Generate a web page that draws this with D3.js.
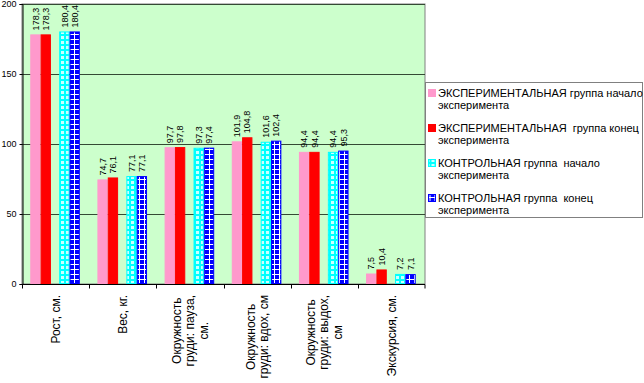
<!DOCTYPE html>
<html>
<head>
<meta charset="utf-8">
<script src="https://cdn.jsdelivr.net/npm/d3@7"></script>
<style>
  html, body { margin: 0; padding: 0; background: #fff; }
  svg { display: block; font-family: Arial, "Liberation Sans", sans-serif; }
</style>
</head>
<body>
<svg id="chart" width="644" height="383"></svg>
<script>
'use strict';

// categories, one label line per array entry
var categories = ['Рост, см.', 'Вес, кг.', 'Окружность груди: пауза, см.',
  'Окружность груди: вдох, см', 'Окружность груди: выдох, см', 'Экскурсия, см.'];
var categoryLines = [
  ['Рост, см.'],
  ['Вес, кг.'],
  ['Окружность', 'груди: пауза,', 'см.'],
  ['Окружность', 'груди: вдох, см'],
  ['Окружность', 'груди: выдох,', 'см'],
  ['Экскурсия, см.']
];

var expStart = [178.3, 74.7, 97.7, 101.9, 94.4, 7.5];
var expEnd = [178.3, 76.1, 97.8, 104.8, 94.4, 10.4];
var ctrlStart = [180.4, 77.1, 97.3, 101.6, 94.4, 7.2];
var ctrlEnd = [180.4, 77.1, 97.4, 102.4, 95.3, 7.1];

var seriesNames = [
  ['ЭКСПЕРИМЕНТАЛЬНАЯ группа начало', 'эксперимента'],
  ['ЭКСПЕРИМЕНТАЛЬНАЯ  группа конец', 'эксперимента'],
  ['КОНТРОЛЬНАЯ группа  начало', 'эксперимента'],
  ['КОНТРОЛЬНАЯ группа  конец', 'эксперимента']
];

var yTicks = [0, 50, 100, 150, 200];

var series = [
  { values: expStart, fill: '#ff99cc', stroke: '#ff99cc' },
  { values: expEnd, fill: '#ff0000', stroke: '#ff0000' },
  { values: ctrlStart, fill: 'url(#patCyan)', stroke: '#00ffff' },
  { values: ctrlEnd, fill: 'url(#patBlue)', stroke: '#0000ff' }
];

var plot = { left: 22, right: 425, top: 4, bottom: 284 };

var svg = d3.select('#chart');

// patterns for the control group bars
var defs = svg.append('defs');
var pc = defs.append('pattern')
  .attr('id', 'patCyan')
  .attr('patternUnits', 'userSpaceOnUse')
  .attr('width', 5).attr('height', 5);
pc.append('rect').attr('width', 5).attr('height', 5).attr('fill', '#00ffff');
pc.append('rect').attr('x', 1).attr('y', 1).attr('width', 3).attr('height', 3).attr('fill', '#ccffff');

var pb = defs.append('pattern')
  .attr('id', 'patBlue')
  .attr('patternUnits', 'userSpaceOnUse')
  .attr('width', 5).attr('height', 5);
pb.append('rect').attr('width', 5).attr('height', 5).attr('fill', '#ffffff');
pb.append('rect').attr('width', 4).attr('height', 4).attr('fill', '#0000ff');

var x = d3.scaleBand()
  .domain(categories)
  .range([plot.left, plot.right])
  .padding(0);

var y = d3.scaleLinear()
  .domain([0, 200])
  .range([plot.bottom, plot.top]);

// plot background
svg.append('rect')
  .attr('x', plot.left)
  .attr('y', plot.top)
  .attr('width', plot.right - plot.left)
  .attr('height', plot.bottom - plot.top)
  .attr('fill', '#ccffcc')
  .attr('stroke', '#808080')
  .attr('stroke-width', 1);

// gridlines
svg.append('g')
  .selectAll('line')
  .data(yTicks.filter(function(d) { return d > 0; }))
  .enter().append('line')
  .attr('x1', plot.left)
  .attr('x2', plot.right)
  .attr('y1', function(d) { return Math.round(y(d)) + 0.5; })
  .attr('y2', function(d) { return Math.round(y(d)) + 0.5; })
  .attr('stroke', '#344a34')
  .attr('stroke-width', 1);

// y axis
var yAxis = svg.append('g')
  .attr('transform', 'translate(' + (plot.left + 0.5) + ',0)')
  .call(d3.axisLeft(y).tickValues(yTicks).tickSize(3).tickPadding(3));
yAxis.selectAll('text')
  .attr('font-size', 9)
  .attr('font-family', 'Arial, "Liberation Sans", sans-serif')
  .attr('fill', '#000');
yAxis.selectAll('line, path').attr('stroke', '#000');

// bars
var bw = x.bandwidth() / 6.5;
var offsets = [0.8, 1.8, 3.6, 4.6];

series.forEach(function(s, si) {
  var g = svg.append('g');
  g.selectAll('rect')
    .data(s.values)
    .enter().append('rect')
    .attr('x', function(d, i) { return x(categories[i]) + offsets[si] * bw + 0.5; })
    .attr('y', function(d) { return y(d) + 0.5; })
    .attr('width', bw - 1)
    .attr('height', function(d) { return y(0) - y(d) - 1; })
    .attr('fill', s.fill)
    .attr('stroke', s.stroke)
    .attr('stroke-width', 1);

  g.selectAll('text')
    .data(s.values)
    .enter().append('text')
    .attr('transform', function(d, i) {
      var cx = x(categories[i]) + (offsets[si] + 0.5) * bw;
      return 'translate(' + cx + ',' + (y(d) - 4) + ') rotate(-90)';
    })
    .attr('dy', '0.35em')
    .attr('font-size', 9)
    .attr('fill', '#000')
    .text(function(d) { return d3.format('.1f')(d).replace('.', ','); });
});

// x axis
var xAxis = svg.append('g')
  .attr('transform', 'translate(0,' + (plot.bottom + 0.5) + ')');
xAxis.append('line')
  .attr('x1', plot.left).attr('x2', plot.right)
  .attr('stroke', '#000');
xAxis.selectAll('line.tick')
  .data(categories.concat([null]))
  .enter().append('line')
  .attr('class', 'tick')
  .attr('x1', function(d) { return d === null ? plot.right : Math.round(x(d)) + 0.5; })
  .attr('x2', function(d) { return d === null ? plot.right : Math.round(x(d)) + 0.5; })
  .attr('y1', 0).attr('y2', 4)
  .attr('stroke', '#000');

// category labels, rotated, lines centred on the longest one
var labelTop = 295;
var lineH = 13.5;
categoryLines.forEach(function(lines, ci) {
  var cx = x(categories[ci]) + x.bandwidth() / 2;
  var g = svg.append('g');
  var texts = g.selectAll('text')
    .data(lines)
    .enter().append('text')
    .attr('font-size', 12)
    .attr('fill', '#000')
    .attr('text-anchor', 'middle')
    .attr('dy', '0.35em')
    .text(function(d) { return d; });
  var maxLen = d3.max(texts.nodes(), function(n) { return n.getComputedTextLength(); });
  texts.attr('transform', function(d, i) {
    var lx = cx + (i - (lines.length - 1) / 2) * lineH;
    return 'translate(' + lx + ',' + (labelTop + maxLen / 2) + ') rotate(-90)';
  });
});

// legend
var legend = svg.append('g').attr('transform', 'translate(425.5,82.5)');
legend.append('rect')
  .attr('width', 217)
  .attr('height', 135)
  .attr('fill', '#fff')
  .attr('stroke', '#808080');

var items = legend.selectAll('g.item')
  .data(seriesNames)
  .enter().append('g')
  .attr('class', 'item')
  .attr('transform', function(d, i) { return 'translate(0,' + (10.5 + i * 35) + ')'; });

items.append('rect')
  .attr('x', 3).attr('y', -3.5)
  .attr('width', 7).attr('height', 7)
  .attr('fill', function(d, i) { return series[i].fill; })
  .attr('stroke', function(d, i) { return series[i].stroke; });

items.selectAll('text')
  .data(function(d) { return d; })
  .enter().append('text')
  .attr('x', 12.5)
  .attr('y', function(d, i) { return i * 12; })
  .attr('dy', '0.35em')
  .attr('font-size', 11)
  .attr('fill', '#000')
  .attr('xml:space', 'preserve')
  .style('white-space', 'pre')
  .text(function(d) { return d; });
</script>
</body>
</html>
